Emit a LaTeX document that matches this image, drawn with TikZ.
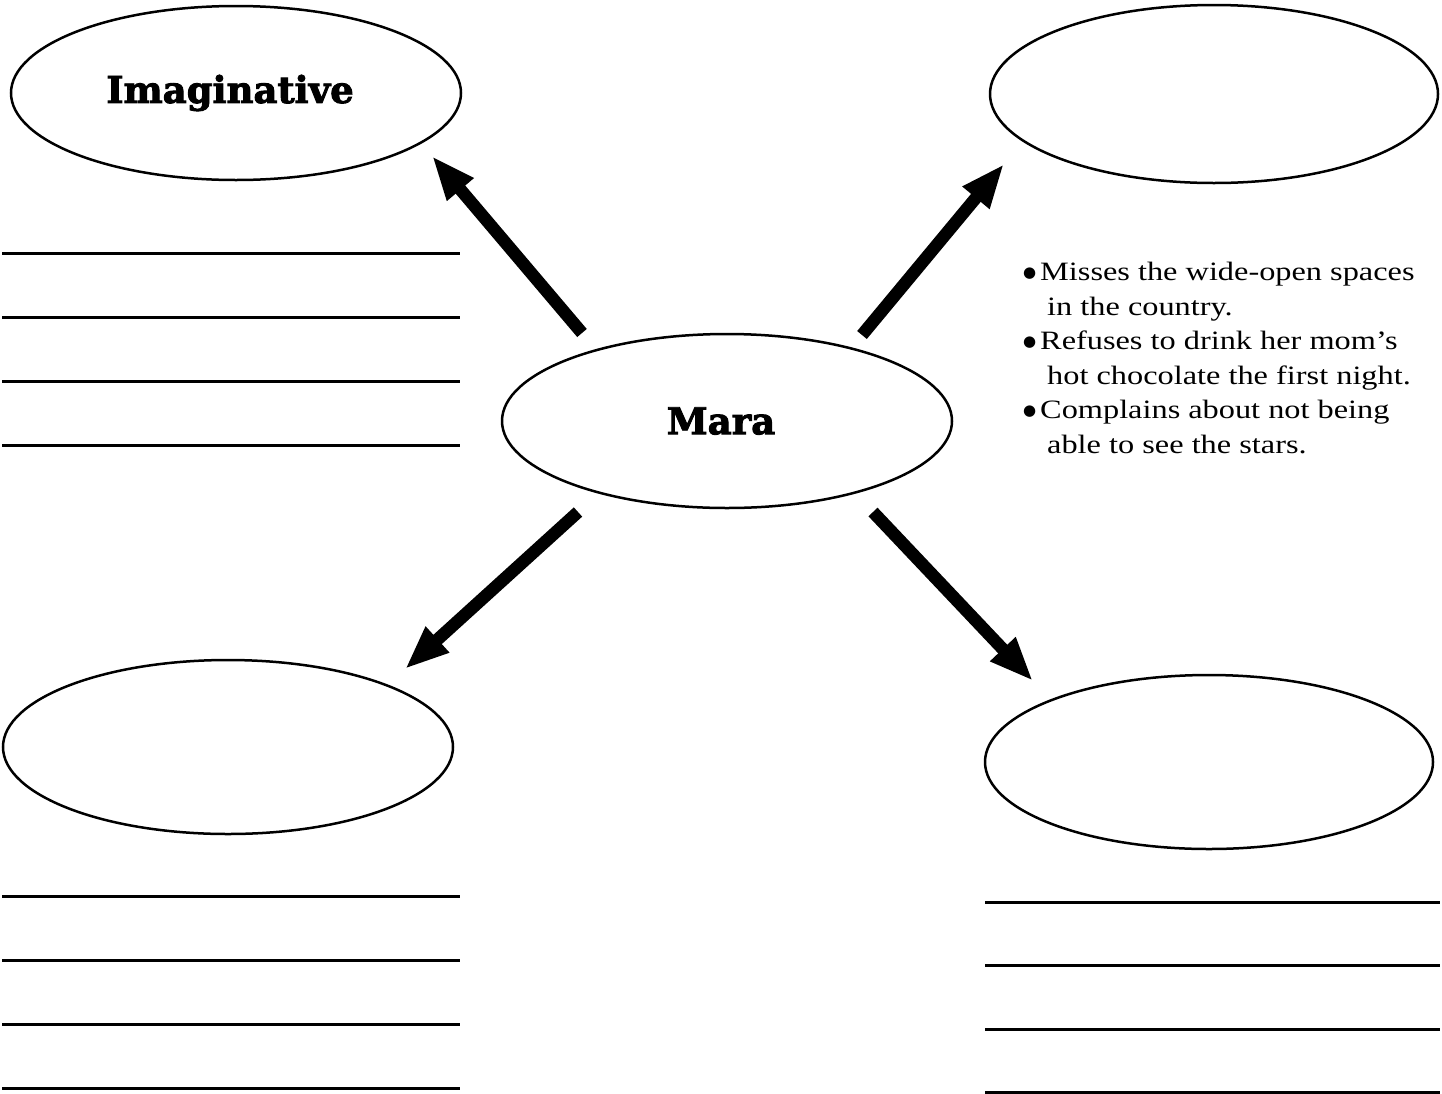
\documentclass[tikz,border=0pt]{standalone}
\usepackage{fontspec}
\setmainfont{Liberation Serif}[FakeStretch=1.22]
\newfontfamily\headfont{DejaVu Serif}[FakeBold=2.5]
\newfontfamily\symfont{DejaVu Sans}
\usetikzlibrary{shapes.geometric,arrows.meta}
\newcommand{\bulitem}{\makebox[17pt][l]{\raisebox{3pt}{\symfont\fontsize{15}{15}\selectfont ●}}}
\newcommand{\contind}{\hspace*{24pt}}
\begin{document}
\begin{tikzpicture}[x=1pt,y=-1pt,
  oval/.style={draw,ellipse,line width=2.5pt,minimum width=450pt,minimum height=174pt,inner sep=0pt,
    font=\headfont\bfseries\fontsize{37}{40}\selectfont},
  bigarrow/.style={line width=12.5pt,-{Triangle[width=32pt,length=44pt]}},
  blank/.style={line width=3pt}]
\useasboundingbox (0,0) rectangle (1442,1093);
\node[oval] (imag) at (236,93) {\hspace*{-12pt}Imaginative};
\node[oval,minimum width=448pt,minimum height=178pt] (tr) at (1214,94) {};
\node[oval] (mara) at (727,421) {\hspace*{-12pt}Mara};
\node[oval] (bl) at (228,747) {};
\node[oval,minimum width=448pt] (br) at (1209,762) {};
% arrows
\coordinate (a1s) at (582,333); \coordinate (a1e) at (432,156);
\coordinate (a2s) at (862,335); \coordinate (a2e) at (1004,164);
\coordinate (a3s) at (578,512); \coordinate (a3e) at (405,669);
\coordinate (a4s) at (873,512); \coordinate (a4e) at (1033,681);
\draw[bigarrow] (a1s) -- (a1e);
\draw[bigarrow] (a2s) -- (a2e);
\draw[bigarrow] (a3s) -- (a3e);
\draw[bigarrow] (a4s) -- (a4e);
% notes
\node[anchor=north west,align=left,inner sep=0pt,font=\fontsize{26.5}{34.5}\selectfont] (notes) at (1023,262)
{\bulitem Misses the wide-open spaces\\
 \contind in the country.\\
 \bulitem Refuses to drink her mom’s\\
 \contind hot chocolate the first night.\\
 \bulitem Complains about not being\\
 \contind able to see the stars.};
% blank lines
\foreach \yy in {253,317,381,445} \draw[blank] (2,\yy) -- (460,\yy);
\foreach \yy in {896,960,1024,1088} \draw[blank] (2,\yy) -- (460,\yy);
\foreach \yy in {902,965,1029,1092} \draw[blank] (985,\yy) -- (1440,\yy);
\end{tikzpicture}
\end{document}
